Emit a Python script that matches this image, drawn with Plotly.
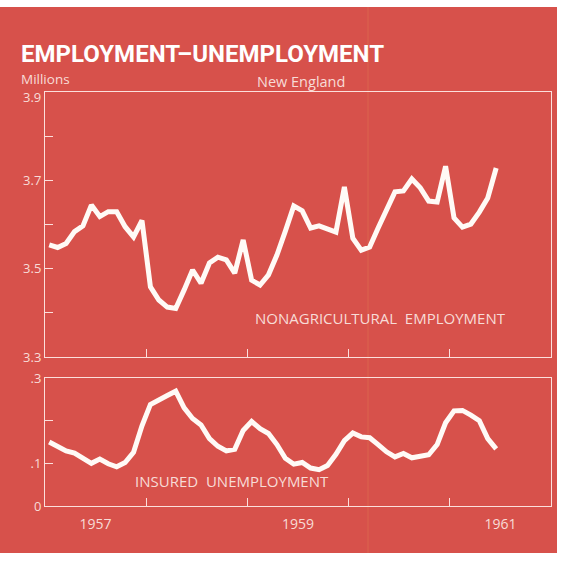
import plotly.graph_objects as go

# Months since Jan 1957 (mid-month positions), Jan 1957 .. Jun 1961
months = [i + 0.5 for i in range(54)]

nonag_employment = [
    3.554, 3.548, 3.557, 3.584, 3.597, 3.644, 3.618, 3.629, 3.629, 3.595, 3.572, 3.609,
    3.459, 3.429, 3.413, 3.410, 3.452, 3.497, 3.467, 3.513, 3.526, 3.520, 3.490, 3.565,
    3.474, 3.463, 3.486, 3.531, 3.585, 3.642, 3.631, 3.592, 3.597, 3.590, 3.583, 3.685,
    3.569, 3.542, 3.549, 3.592, 3.633, 3.674, 3.676, 3.703, 3.683, 3.653, 3.651, 3.732,
    3.615, 3.594, 3.601, 3.628, 3.660, 3.728,
]

insured_unemployment = [
    0.150, 0.138, 0.129, 0.124, 0.112, 0.100, 0.110, 0.099, 0.092, 0.102, 0.126, 0.188,
    0.238, 0.247, 0.259, 0.269, 0.230, 0.205, 0.190, 0.158, 0.140, 0.129, 0.133, 0.177,
    0.198, 0.181, 0.170, 0.144, 0.112, 0.098, 0.102, 0.089, 0.085, 0.095, 0.121, 0.153,
    0.171, 0.162, 0.160, 0.144, 0.127, 0.115, 0.123, 0.113, 0.116, 0.120, 0.144, 0.195,
    0.223, 0.224, 0.213, 0.200, 0.158, 0.134,
]

top_tickvals = [3.3, 3.4, 3.5, 3.6, 3.7, 3.8, 3.9]
top_ticktext = ["3.3", "", "3.5", "", "3.7", "", ""]
top_max_label = "3.9"
bot_tickvals = [0, 0.1, 0.2, 0.3]
bot_ticktext = ["0", ".1", "", ".3"]
year_ticks = [12, 24, 36, 48]
year_label_pos = [6, 30, 54]
year_labels = ["1957", "1959", "1961"]

W, H = 569, 570
RED = "#d7514b"
FRAME = "rgba(255,236,232,0.92)"
TXT = "#f7dcd7"
LINE = "#fffaf6"
FONT = "Open Sans, Lato, sans-serif"


def px_x(x):
    return x / W


def px_y(y):
    return 1 - y / H


fig = go.Figure()
fig.add_trace(go.Scatter(x=months, y=nonag_employment, mode="lines",
                         line=dict(color=LINE, width=5), xaxis="x", yaxis="y",
                         showlegend=False, hoverinfo="skip"))
fig.add_trace(go.Scatter(x=months, y=insured_unemployment, mode="lines",
                         line=dict(color=LINE, width=5), xaxis="x2", yaxis="y2",
                         showlegend=False, hoverinfo="skip"))

xdom = [px_x(45), px_x(551)]
common_axis = dict(showline=True, linecolor=FRAME, linewidth=1, mirror=True,
                   showgrid=False, zeroline=False, fixedrange=True, automargin=False)

fig.update_layout(
    template="none",
    width=W, height=H,
    autosize=False,
    margin=dict(l=0, r=0, t=0, b=0, pad=0, autoexpand=False),
    paper_bgcolor="white",
    plot_bgcolor=RED,
    showlegend=False,
    xaxis=dict(domain=xdom, range=[0, 60], anchor="y", tickvals=year_ticks,
               ticktext=["", "", "", ""], ticks="inside", ticklen=8,
               tickcolor=FRAME, **common_axis),
    yaxis=dict(domain=[px_y(357), px_y(92)], range=[3.3, 3.9], anchor="x",
               tickvals=top_tickvals, ticktext=top_ticktext, ticks="inside",
               ticklen=8, tickcolor=FRAME,
               tickfont=dict(family=FONT, size=13, color=TXT), **common_axis),
    xaxis2=dict(domain=xdom, range=[0, 60], anchor="y2", tickvals=year_label_pos,
                ticktext=year_labels, ticks="",
                tickfont=dict(family=FONT, size=14, color=TXT),
                ticklabelstandoff=5,
                minor=dict(tickvals=year_ticks, ticks="inside", ticklen=8,
                           tickcolor=FRAME),
                **common_axis),
    yaxis2=dict(domain=[px_y(506), px_y(378)], range=[0, 0.3], anchor="x2",
                tickvals=bot_tickvals, ticktext=bot_ticktext, ticks="inside",
                ticklen=8, tickcolor=FRAME,
                tickfont=dict(family=FONT, size=13, color=TXT), **common_axis),
    shapes=[
        dict(type="rect", xref="paper", yref="paper", x0=0, x1=px_x(557),
             y0=px_y(553), y1=px_y(7), fillcolor=RED, line=dict(width=0),
             layer="below"),
        dict(type="line", xref="paper", yref="paper", x0=px_x(368), x1=px_x(368),
             y0=px_y(553), y1=px_y(7), line=dict(color="rgba(235,150,90,0.28)", width=1),
             layer="below"),
    ],
    annotations=[
        dict(text="<b>EMPLOYMENT–UNEMPLOYMENT</b>", xref="paper", yref="paper",
             x=px_x(19), y=px_y(54), xanchor="left", yanchor="middle", showarrow=False,
             font=dict(family="Roboto, sans-serif", size=24, color="white")),
        dict(text="Millions", xref="paper", yref="paper", x=px_x(19), y=px_y(79),
             xanchor="left", yanchor="middle", showarrow=False,
             font=dict(family=FONT, size=13.5, color=TXT)),
        dict(text=top_max_label, xref="paper", yref="paper", x=px_x(43), y=px_y(97),
             xanchor="right", yanchor="middle", showarrow=False,
             font=dict(family=FONT, size=13, color=TXT)),
        dict(text="New England", xref="paper", yref="paper", x=px_x(301), y=px_y(81),
             xanchor="center", yanchor="middle", showarrow=False,
             font=dict(family=FONT, size=14.5, color=TXT)),
        dict(text="NONAGRICULTURAL  EMPLOYMENT", xref="paper", yref="paper",
             x=px_x(380), y=px_y(318), xanchor="center", yanchor="middle",
             showarrow=False, font=dict(family=FONT, size=15, color=TXT)),
        dict(text="INSURED  UNEMPLOYMENT", xref="paper", yref="paper",
             x=px_x(232), y=px_y(481), xanchor="center", yanchor="middle",
             showarrow=False, font=dict(family=FONT, size=15, color=TXT)),
    ],
)

post = (
    "document.documentElement.style.margin='0';"
    "document.documentElement.style.padding='0';"
    "document.body.style.margin='0';document.body.style.padding='0';"
    "var gd=document.getElementById('{plot_id}');"
    "gd.style.position='fixed';gd.style.top='0';gd.style.left='0';"
)

fig.write_html(
    "out.html",
    config={"responsive": False, "displayModeBar": False},
    post_script=post,
)
